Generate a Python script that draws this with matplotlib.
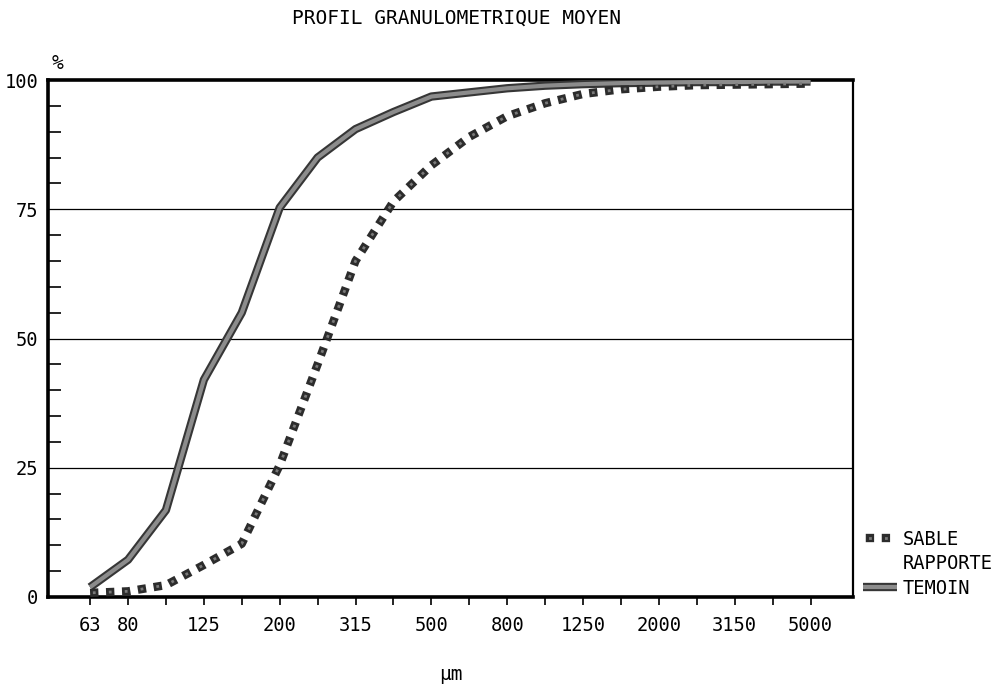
import matplotlib
matplotlib.use("Agg")
import matplotlib.pyplot as plt
from matplotlib.lines import Line2D
import numpy as np

plt.rcParams['font.family'] = ['DejaVu Sans Mono', 'DejaVu Sans']
plt.rcParams['lines.scale_dashes'] = False

# sieve sizes (um), equally spaced on the axis
sizes = [63, 80, 100, 125, 160, 200, 250, 315, 400, 500,
         630, 800, 1000, 1250, 1600, 2000, 2500, 3150, 4000, 5000]
shown = [63, 80, 125, 200, 315, 500, 800, 1250, 2000, 3150, 5000]

# cumulative % passing
temoin = [1.9, 7.2, 16.8, 42.0, 55.0, 75.3, 85.0, 90.5, 93.8, 96.8,
          97.6, 98.4, 98.9, 99.2, 99.4, 99.5, 99.6, 99.6, 99.7, 99.7]
sable = [0.8, 1.1, 2.3, 6.2, 10.3, 25.5, 45.0, 65.0, 76.5, 83.5,
         89.0, 93.0, 95.5, 97.3, 98.2, 98.7, 99.0, 99.1, 99.2, 99.3]

x = np.arange(len(sizes))

fig = plt.figure(figsize=(10.08, 6.84), dpi=100)
ax = fig.add_axes([48/1008, 87/684, 805/1008, 517/684])

dark_t, light_t = '#363636', '#8c8c8c'
dark_s, light_s = '#2c2c2c', '#7a7a7a'

# TEMOIN : thick grey band with dark edges
ax.plot(x, temoin, color=dark_t, lw=6.0, solid_capstyle='butt', zorder=3)
ax.plot(x, temoin, color=light_t, lw=3.0, solid_capstyle='butt', zorder=4)

# SABLE RAPPORTE : square dashes
ax.plot(x, sable, color=dark_s, lw=6.0, linestyle=(0, (6.0, 5.5)),
        dash_capstyle='butt', zorder=3)
ax.plot(x, sable, color=light_s, lw=2.0, linestyle=(9.5, (2.0, 9.5)),
        dash_capstyle='butt', zorder=4)

ax.set_xlim(-1.11, 20.12)
ax.set_ylim(0, 100)

ax.set_xticks(x)
ax.set_xticklabels([str(s) if s in shown else '' for s in sizes], fontsize=13.5)
ax.tick_params(axis='x', direction='out', length=5.5, width=1.2, pad=8)

ax.set_yticks([0, 25, 50, 75, 100])
ax.set_yticklabels(['0', '25', '50', '75', '100'], fontsize=13.5)
ax.set_yticks(np.arange(5, 100, 5), minor=True)
ax.tick_params(axis='y', which='major', length=0, pad=7)
ax.tick_params(axis='y', which='minor', direction='in', length=9, width=1.2)

for yv in [25, 50, 75]:
    ax.axhline(yv, color='black', lw=0.9, zorder=1)

for side in ['left', 'bottom', 'top']:
    ax.spines[side].set_linewidth(2.6)
ax.spines['right'].set_linewidth(1.6)

ax.text(0.005, 1.032, '%', transform=ax.transAxes, fontsize=14, ha='left', va='center')
ax.set_xlabel('\u00b5m', fontsize=14, labelpad=22)

fig.text(456/1008, 1 - 18/684, 'PROFIL GRANULOMETRIQUE MOYEN', fontsize=14,
         ha='center', va='center')

# legend proxies
hs = (Line2D([], [], color=dark_s, lw=6.0, linestyle=(9.5, (6.0, 5.5)), dash_capstyle='butt'),
      Line2D([], [], color=light_s, lw=2.0, linestyle=(9.5 - 2.0, (2.0, 9.5)), dash_capstyle='butt'))
ht = (Line2D([], [], color=dark_t, lw=6.0, solid_capstyle='butt'),
      Line2D([], [], color=light_t, lw=3.0, solid_capstyle='butt'))
blank = Line2D([], [], color='none')
ax.legend([hs, blank, ht], ['SABLE', 'RAPPORTE', 'TEMOIN'],
          loc='lower left', bbox_to_anchor=(1.012, -0.002), frameon=False,
          fontsize=13.5, handlelength=1.85, handletextpad=0.3,
          labelspacing=0.3, borderpad=0, borderaxespad=0)

fig.savefig('out.png', dpi=100)
